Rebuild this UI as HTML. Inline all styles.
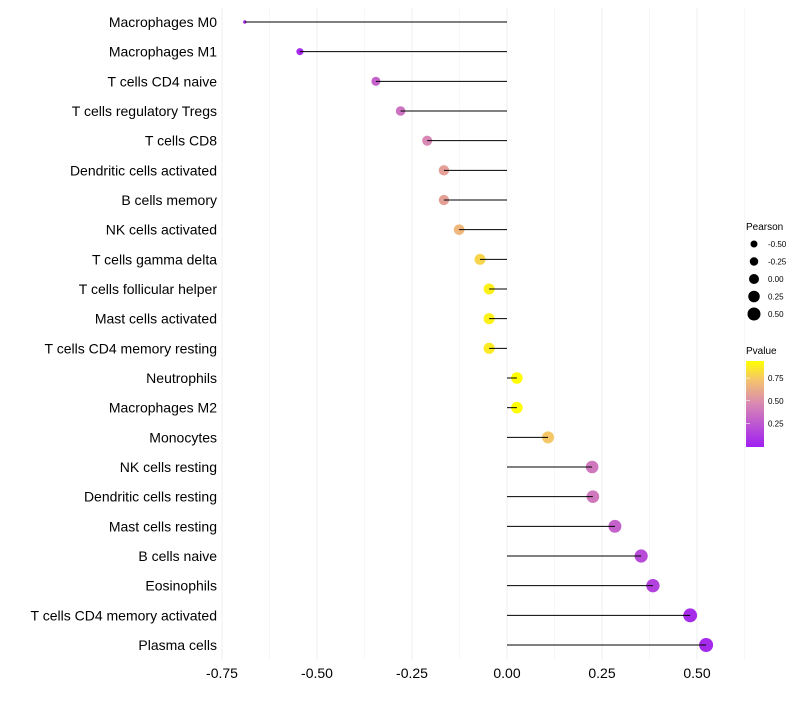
<!DOCTYPE html>
<html><head><meta charset="utf-8"><style>
body{margin:0;background:#fff;font-family:"Liberation Sans",sans-serif}
</style></head><body>
<svg id="chart" width="800" height="700" xmlns="http://www.w3.org/2000/svg">
<g id="grid"></g><g id="dots"></g><g id="lines"></g><g id="ylab"></g><g id="xlab"></g>
<g id="legend">
<text x="746" y="230" font-size="10" fill="#000">Pearson</text>
<g id="sizeleg"></g>
<text x="746" y="354" font-size="10" fill="#000">Pvalue</text>
<defs><linearGradient id="pg" x1="0" y1="1" x2="0" y2="0">
<stop offset="0" stop-color="#a01ff2"/><stop offset="0.5" stop-color="#d888b4"/><stop offset="0.78" stop-color="#f5c46c"/><stop offset="1" stop-color="#ffff00"/></linearGradient></defs>
<rect x="746" y="361" width="18" height="86" fill="url(#pg)"/>
<g id="colleg"></g>
</g>
</svg>
<script>
const categories=["Macrophages M0","Macrophages M1","T cells CD4 naive","T cells regulatory  Tregs","T cells CD8","Dendritic cells activated","B cells memory","NK cells activated","T cells gamma delta","T cells follicular helper","Mast cells activated","T cells CD4 memory resting","Neutrophils","Macrophages M2","Monocytes","NK cells resting","Dendritic cells resting","Mast cells resting","B cells naive","Eosinophils","T cells CD4 memory activated","Plasma cells"];
const pearson=[-0.69,-0.545,-0.345,-0.28,-0.21,-0.166,-0.166,-0.126,-0.071,-0.047,-0.047,-0.047,0.026,0.026,0.108,0.224,0.226,0.284,0.353,0.384,0.482,0.524];
const pvalue=[0.05,0.05,0.3,0.37,0.47,0.58,0.58,0.68,0.8,0.9,0.9,0.88,0.95,0.95,0.75,0.4,0.4,0.3,0.2,0.15,0.06,0.05];
const xTicks=[-0.75,-0.5,-0.25,0,0.25,0.5];
const xTickLabels=["-0.75","-0.50","-0.25","0.00","0.25","0.50"];
const sizeLegVals=[-0.5,-0.25,0,0.25,0.5];
const colLegVals=[0.25,0.5,0.75];
const NS="http://www.w3.org/2000/svg";
const X=v=>507+v*380;
const Y=i=>22+i*(623/21);
const pmin=Math.min(...pearson),pmax=Math.max(...pearson);
const R=v=>{const t=Math.max(0,Math.min(1,(v-pmin)/(pmax-pmin)));return 1.7+5.3*Math.sqrt(t);};
function lerp(a,b,t){return a.map((x,i)=>Math.round(x+(b[i]-x)*t));}
const stops=[[0,[160,31,242]],[0.47,[216,136,180]],[0.74,[245,196,108]],[0.95,[255,255,0]]];
function C(p){for(let i=0;i<stops.length-1;i++){if(p<=stops[i+1][0]){const t=Math.max(0,(p-stops[i][0])/(stops[i+1][0]-stops[i][0]));const c=lerp(stops[i][1],stops[i+1][1],t);return`rgb(${c})`;}}return"rgb(255,255,0)";}
function mk(tag,attrs,parent,text){const e=document.createElementNS(NS,tag);for(const k in attrs)e.setAttribute(k,attrs[k]);if(text!==undefined)e.textContent=text;document.getElementById(parent).appendChild(e);return e;}
for(let v=-0.75;v<=0.626;v+=0.125){const e=mk("line",{x1:X(v),x2:X(v),y1:8,y2:660,stroke:"#efefef","stroke-width":Math.abs((v*4)%1)<1e-6?1:0.5},"grid");

}
xTicks.forEach((v,i)=>{const t=mk("text",{x:X(v),y:678,"font-size":14,"text-anchor":"middle",fill:"#000"},"xlab",xTickLabels[i]);

});
categories.forEach((c,i)=>{const y=Y(i);
const d=mk("circle",{cx:X(pearson[i]),cy:y,r:R(pearson[i]),fill:C(pvalue[i])},"dots");


const l=mk("line",{x1:X(0),x2:X(pearson[i]),y1:y,y2:y,stroke:"#000","stroke-width":1},"lines");


const t=mk("text",{x:217,y:y+5,"font-size":14,"text-anchor":"end",fill:"#000"},"ylab",c);

});
sizeLegVals.forEach((v,i)=>{const y=244+i*17.5;
const d=mk("circle",{cx:754,cy:y,r:3.5+(v+0.5)*3,fill:"#000"},"sizeleg");


const t=mk("text",{x:768,y:y+3,"font-size":8,fill:"#000"},"sizeleg",v.toFixed(2));

});
colLegVals.forEach(v=>{const y=446-v*90.5;
const t=mk("text",{x:768,y:y+3,"font-size":8,fill:"#000"},"colleg",v.toFixed(2));


const k=mk("line",{x1:746,x2:750,y1:y,y2:y,stroke:"#fff","stroke-width":0.6},"colleg");

});
</script>
</body></html>
